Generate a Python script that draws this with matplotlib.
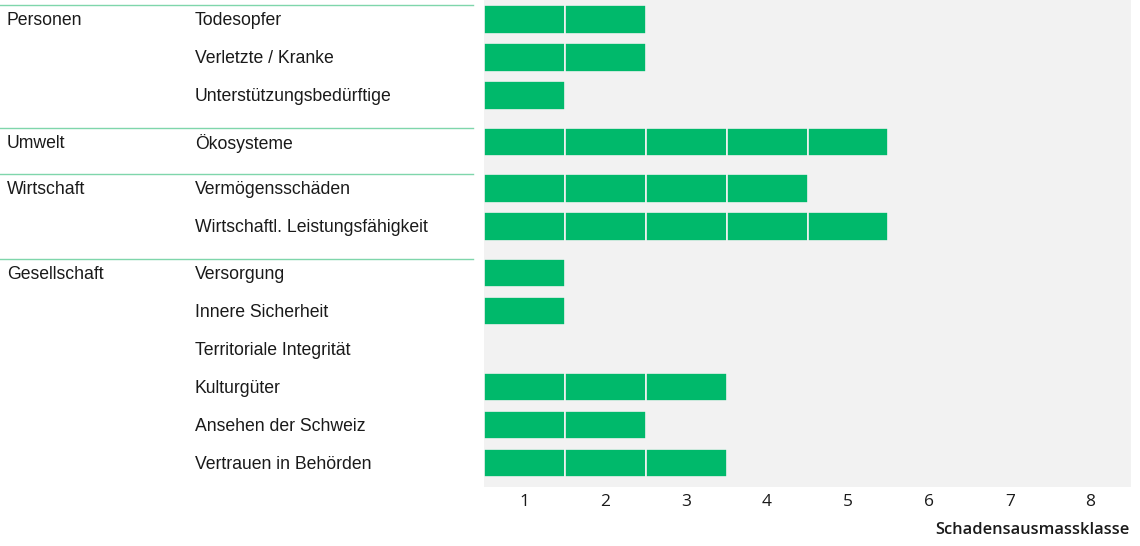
import matplotlib.pyplot as plt
from matplotlib.transforms import blended_transform_factory

groups = ["Personen", "Umwelt", "Wirtschaft", "Gesellschaft"]
group_items = [
    ["Todesopfer", "Verletzte / Kranke", "Unterstützungsbedürftige"],
    ["Ökosysteme"],
    ["Vermögensschäden", "Wirtschaftl. Leistungsfähigkeit"],
    ["Versorgung", "Innere Sicherheit", "Territoriale Integrität",
     "Kulturgüter", "Ansehen der Schweiz", "Vertrauen in Behörden"],
]
group_values = [
    [2, 2, 1],
    [5],
    [4, 5],
    [1, 1, 0, 3, 2, 3],
]
classes = [1, 2, 3, 4, 5, 6, 7, 8]

green = "#00b96b"
line_green = "#7fd6ab"
bar_h = 0.76
gap = 0.224

fig = plt.figure(figsize=(11.4, 5.46), dpi=100)
ax = fig.add_axes([484 / 1140, 59 / 546, 647 / 1140, 487 / 546])
ax.set_facecolor("#f2f2f2")
# x in figure fraction, y in data rows
trans = blended_transform_factory(fig.transFigure, ax.transData)

pos = 0.0
for g, (name, items, vals) in enumerate(zip(groups, group_items, group_values)):
    if g > 0:
        pos += gap
    top = pos - bar_h / 2
    ax.plot([0, 473 / 1140], [top, top], color=line_green, lw=1,
            transform=trans, clip_on=False)
    fig.text(7 / 1140, pos + 0.03, name, transform=trans, ha="left",
             va="center", fontsize=12.7, family="Liberation Sans",
             color="#1a1a1a")
    for item, v in zip(items, vals):
        fig.text(195 / 1140, pos + 0.03, item, transform=trans, ha="left",
                 va="center", fontsize=12.7, family="Liberation Sans",
                 color="#1a1a1a")
        # one block per class
        for k in range(v):
            ax.barh(pos, 1, left=classes[k] - 0.5, height=bar_h,
                    color=green, edgecolor="#f2f2f2", linewidth=1.2)
        pos += 1
pos -= 1

ax.set_xlim(0.5, 8.5)
ax.set_ylim(pos + 0.63, -0.513)
ax.set_xticks(classes)
ax.set_xticklabels([str(c) for c in classes], fontsize=12.5,
                   family="Open Sans", color="#1a1a1a")
ax.tick_params(axis="x", length=0, pad=5)
ax.set_yticks([])
for s in ax.spines.values():
    s.set_visible(False)

fig.text(1130 / 1140, 1 - 530 / 546, "Schadensausmassklasse", ha="right",
         va="center", fontsize=11.8, family="Open Sans", weight="semibold",
         color="#1a1a1a")

fig.savefig("out.png", dpi=100)
